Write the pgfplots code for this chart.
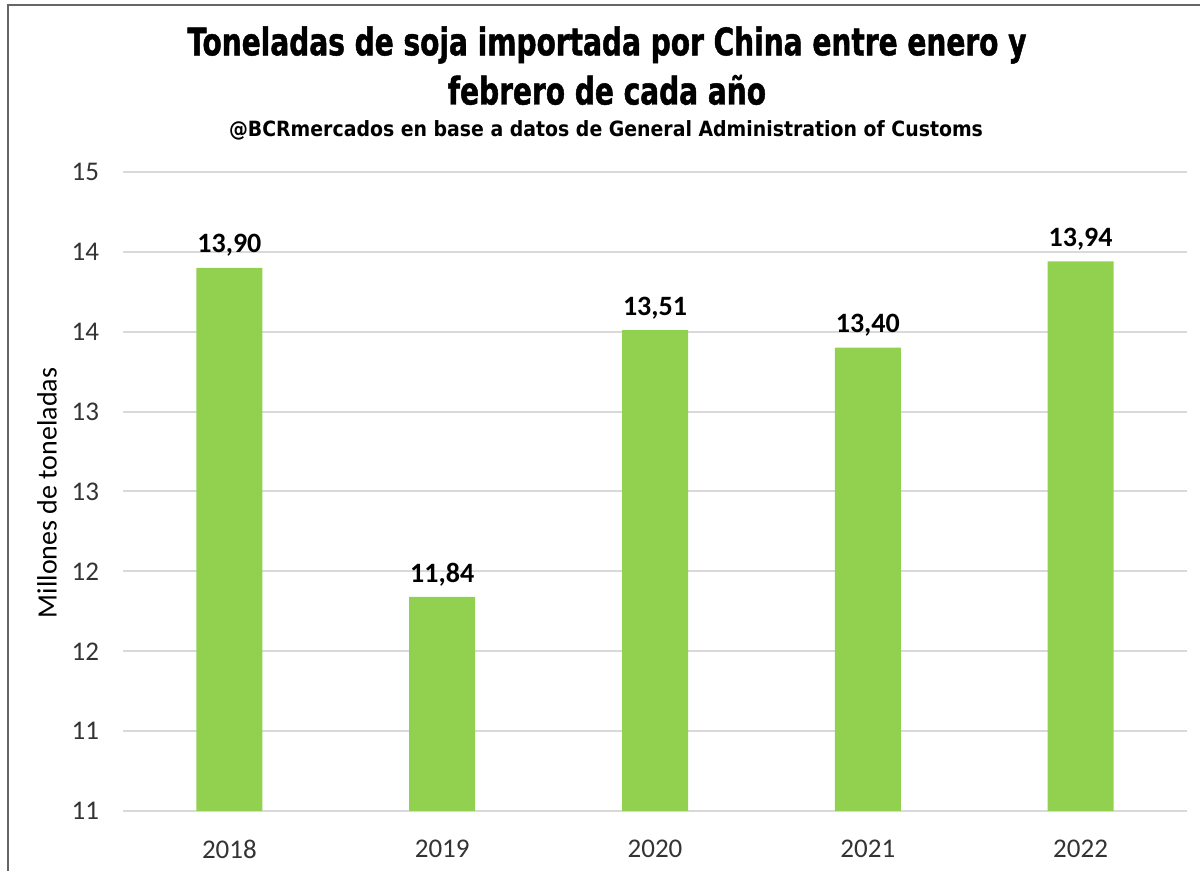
\documentclass[border=0pt]{standalone}
\usepackage{fontspec}
\setmainfont{Carlito}
\newfontfamily\titlefont[FakeStretch=0.82,FakeBold=1.2]{DejaVu Sans Condensed}
\newfontfamily\subfont{DejaVu Sans Condensed}
\usepackage{pgfplots}
\pgfplotsset{compat=1.18}
\definecolor{barg}{HTML}{92D050}
\definecolor{tickc}{HTML}{333333}
\definecolor{gridc}{HTML}{D9D9D9}
\begin{document}
\begin{tikzpicture}
\begin{scope}[x=0.5pt,y=0.5pt,shift={(-123,-60)}]
\useasboundingbox (0,0) rectangle (1200,871);
\draw[color=gray!80!black, line width=1pt] (8,-20) -- (8,866) -- (1230,866);
\node[font=\titlefont\bfseries\fontsize{19}{23}\selectfont, align=center] at (607,826) {Toneladas de soja importada por China entre enero y};
\node[font=\titlefont\bfseries\fontsize{19}{23}\selectfont, align=center] at (607,781) {febrero de cada año};
\node[font=\subfont\bfseries\fontsize{10.5}{12}\selectfont] at (606,741) {@BCRmercados en base a datos de General Administration of Customs};
\node[rotate=90, font=\fontsize{14}{16}\selectfont, text=black] at (47,378) {Millones de toneladas};
\end{scope}
\begin{axis}[
  at={(0,0)}, anchor=south west,
  scale only axis, width=532pt, height=319.5pt,
  xmin=-0.5, xmax=4.5, ymin=10.5, ymax=14.5,
  xtick={0,1,2,3,4}, xticklabels={2018,2019,2020,2021,2022},
  ytick={10.5,11,11.5,12,12.5,13,13.5,14,14.5},
  yticklabels={11,11,12,12,13,13,14,14,15},
  ymajorgrids, grid style={color=gridc, line width=1pt},
  axis line style={draw=none}, major tick style={draw=none},
  ticklabel style={font=\fontsize{13.5}{15}\selectfont, text=tickc},
  yticklabel style={xshift=-8.5pt},
  xticklabel style={yshift=-6.5pt},
  ybar, bar width=33pt,
  /pgf/number format/assume math mode=true,
  nodes near coords={\pgfmathprintnumber[fixed,fixed zerofill,precision=2,use comma]{\pgfplotspointmeta}},
  every node near coord/.append style={font=\bfseries\fontsize{14}{16}\selectfont, text=black, yshift=2pt},
]
\addplot[fill=barg, draw=none] coordinates {(0,13.90) (1,11.84) (2,13.51) (3,13.40) (4,13.94)};
\end{axis}
\end{tikzpicture}
\end{document}
